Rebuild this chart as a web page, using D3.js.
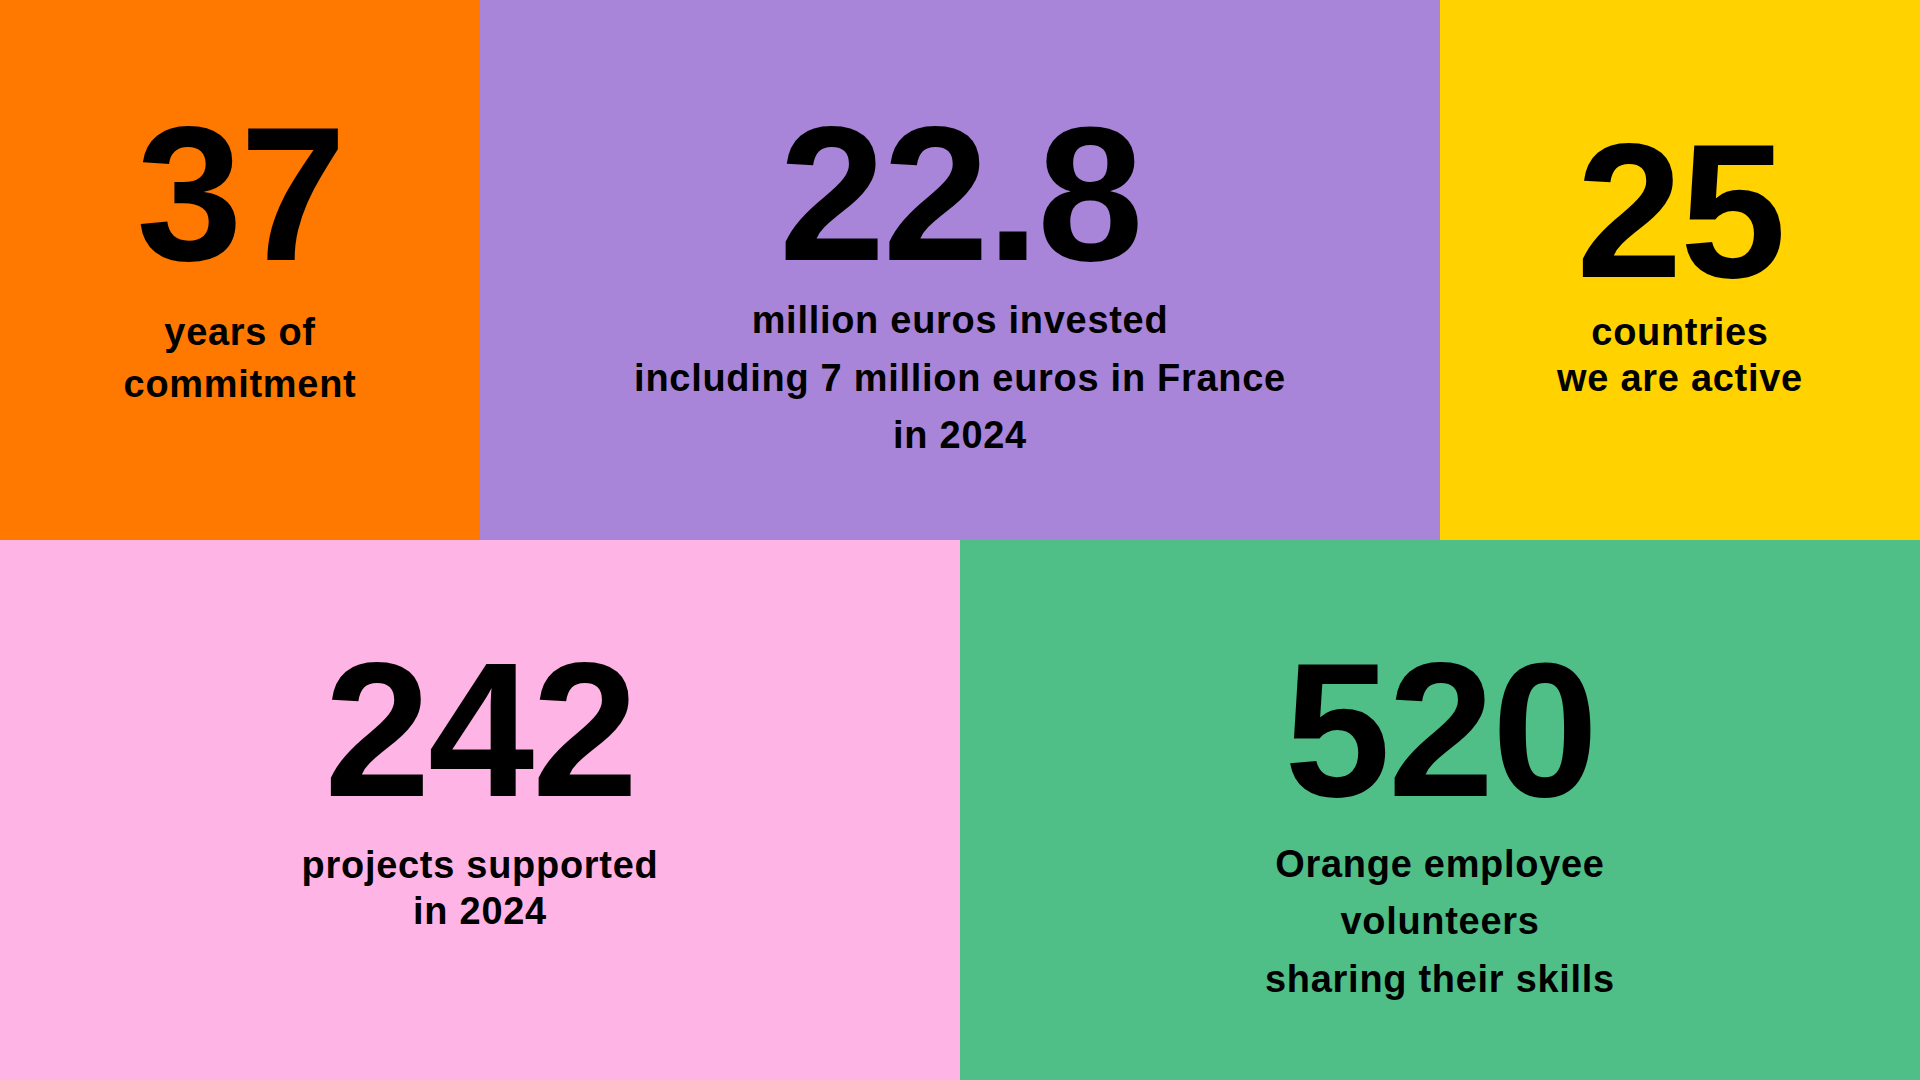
<!DOCTYPE html>
<html>
<head>
<meta charset="utf-8">
<script src="https://cdn.jsdelivr.net/npm/d3@7"></script>
<style>
  html, body { margin: 0; padding: 0; background: #fff; }
  svg { display: block; }
</style>
</head>
<body>
<div class="canvas"></div>
<script>
// key figures, one per tile
var values = ["37", "22.8", "25", "242", "520"];
var labels = [
  ["years of", "commitment"],
  ["million euros invested", "including 7 million euros in France", "in 2024"],
  ["countries", "we are active"],
  ["projects supported", "in 2024"],
  ["Orange employee", "volunteers", "sharing their skills"]
];
var colors = ["#FF7900", "#A885D8", "#FFD200", "#FFB4E6", "#50BE87"];

// layout in design units (reference is 1568 x 882)
var W = 1568, H = 882;
var spans = [[0, 1], [1, 3], [3, 4], [0, 2], [2, 4]];
var rows = [0, 0, 0, 1, 1];
var numY = [212, 212, 226, 650, 650];
var labY = [282, 272, 282, 717, 716];
var lineH = [42, 47, 37, 38, 47];

var x = d3.scaleLinear().domain([0, 4]).range([0, W]);
var y = d3.scaleBand().domain([0, 1]).range([0, H]);

var svg = d3.select('.canvas')
  .append('svg')
  .attr('width', 1920)
  .attr('height', 1080)
  .attr('viewBox', '0 0 ' + W + ' ' + H);

var tiles = values.map(function(v, i) {
  return {value: v, label: labels[i], color: colors[i], span: spans[i], row: rows[i], i: i};
});

var g = svg.selectAll('g.tile')
  .data(tiles)
  .enter().append('g')
  .attr('class', 'tile');

g.append('rect')
  .attr('x', function(d) { return x(d.span[0]); })
  .attr('y', function(d) { return y(d.row); })
  .attr('width', function(d) { return x(d.span[1]) - x(d.span[0]); })
  .attr('height', y.bandwidth())
  .attr('fill', function(d) { return d.color; });

g.append('text')
  .attr('x', function(d) { return (x(d.span[0]) + x(d.span[1])) / 2; })
  .attr('y', function(d) { return numY[d.i]; })
  .attr('text-anchor', 'middle')
  .attr('font-family', 'Liberation Sans, Arial, sans-serif')
  .attr('font-weight', 'bold')
  .attr('font-size', 156)
  .attr('letter-spacing', -2)
  .attr('fill', '#000')
  .text(function(d) { return d.value; });

g.each(function(d) {
  var cx = (x(d.span[0]) + x(d.span[1])) / 2;
  d3.select(this).selectAll('text.lab')
    .data(d.label)
    .enter().append('text')
    .attr('class', 'lab')
    .attr('x', cx)
    .attr('y', function(t, j) { return labY[d.i] + j * lineH[d.i]; })
    .attr('text-anchor', 'middle')
    .attr('font-family', 'Liberation Sans, Arial, sans-serif')
    .attr('font-weight', 'bold')
    .attr('font-size', 31)
    .attr('letter-spacing', 0.6)
    .attr('fill', '#000')
    .text(function(t) { return t; });
});
</script>
</body>
</html>
